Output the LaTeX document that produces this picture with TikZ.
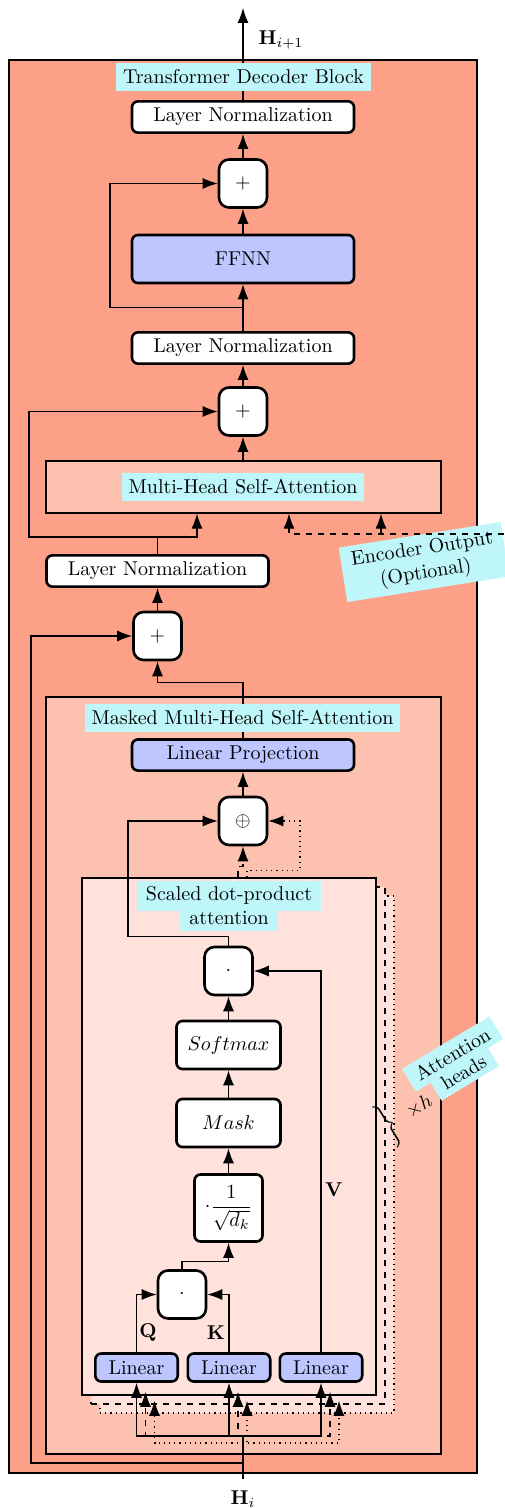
\documentclass[tikz,border=0pt]{standalone}
\usepackage{amsmath}
\usetikzlibrary{arrows.meta, calc}
\definecolor{blockcol}{RGB}{252,161,136}
\definecolor{attncol}{RGB}{253,193,176}
\definecolor{headcol}{RGB}{254,226,219}
\definecolor{lincol}{RGB}{190,198,255}
\definecolor{tagcol}{RGB}{190,246,250}
\newcommand{\tagbox}[1]{\colorbox{tagcol}{\hspace{1.5pt}#1\hspace{1.5pt}}}

\begin{document}
\begin{tikzpicture}[x=0.5pt, y=-0.5pt, semithick,
  box/.style={draw, line width=1.3pt, rounded corners=3pt, fill=white, minimum height=14pt},
  norm/.style={box, minimum width=111pt},
  op/.style={box, rounded corners=5pt, minimum width=24pt, minimum height=24pt},
  lin/.style={box, fill=lincol, minimum width=41.2pt},
  tag/.style={fill=tagcol, inner ysep=3pt, minimum height=14pt},
  area/.style={draw, inner sep=0pt},
  arr/.style={-{Latex[length=7.5pt,width=5.5pt]}}]
\useasboundingbox (0,0) rectangle (504,1508);

\node[area, fill=blockcol, minimum width=234pt, minimum height=706.5pt] (dec) at (243,766.5) {};
\node[norm] (ln1) at (243,117) {Layer Normalization};
\coordinate (out) at (243,8);
\draw[arr] (ln1) -- (out);
\node[tag, minimum width=123.5pt] (title) at (243.5,77) {Transformer Decoder Block};
\node (hout) at (281,40) {$\mathbf{H}_{i+1}$};
\node[op] (add1) at (243,183.5) {$+$};
\node[norm, fill=lincol, minimum height=24pt] (ffnn) at (243,259) {FFNN};
\node[norm] (ln2) at (243,348) {Layer Normalization};
\node[op] (add2) at (243,411.5) {$+$};
\node[area, fill=attncol, minimum width=197.5pt, minimum height=26pt] (mhsa) at (243.5,487) {};
\node[tag, minimum width=115pt] (mhsalab) at (243,487) {Multi-Head Self-Attention};
\node[norm] (ln3) at (157.5,571) {Layer Normalization};
\node[op] (add3) at (157.5,636) {$+$};
\node[tag, rotate=9, align=center, minimum width=82pt] (enclab) at (424,562) {Encoder Output\\(Optional)};
\coordinate (enc) at (504,534);
\coordinate (j2) at (157.5,537);

\node[area, fill=attncol, minimum width=197.5pt, minimum height=378.5pt] (masked) at (243.5,1075.5) {};
\node[norm, fill=lincol] (proj) at (243,755) {Linear Projection};
\draw[arr] (proj.north) -- ++(0,-56) -| (add3);
\node[tag, minimum width=146.5pt] (maskedlab) at (242.5,717.5) {Masked Multi-Head Self-Attention};
\node[op] (concat) at (243,821) {$\oplus$};
\node[area, dotted, fill=headcol, minimum width=147pt, minimum height=258.5pt] (head3) at (247,1154.5) {};
\node[area, dashed, fill=headcol, minimum width=147pt, minimum height=258.5pt] (head2) at (238,1145.5) {};
\node[area, fill=headcol, minimum width=147pt, minimum height=258.5pt] (head1) at (229,1136.5) {};
\node[align=center, inner sep=0pt] (sdplab) at (229,906) {\tagbox{Scaled dot-product}\\[-3.5pt]\tagbox{attention}};
\node[op] (av) at (228.5,971) {$\cdot$};
\node[box, minimum width=52pt, minimum height=24pt] (softmax) at (228.5,1045) {$Softmax$};
\node[box, minimum width=52pt, minimum height=24pt] (mask) at (228.5,1123) {$Mask$};
\node[box, minimum width=34pt, minimum height=33.5pt, inner sep=1pt] (scale) at (228.5,1208) {$\cdot\dfrac{1}{\sqrt{d_k}}$};
\node[op] (qk) at (182,1294.5) {$\cdot$};
\node[lin] (linq) at (136.5,1367.5) {Linear};
\node[lin] (link) at (229,1367.5) {Linear};
\node[lin] (linv) at (321,1367.5) {Linear};
\node (qlab) at (148,1333) {$\mathbf{Q}$};
\node (klab) at (216,1333) {$\mathbf{K}$};
\node (vlab) at (334,1190) {$\mathbf{V}$};
\node[rotate=32] (brace) at (389,1125) {$\bigg\}$};
\node[rotate=31] (times) at (419,1106) {$\times h$};
\node[rotate=31, align=center, inner sep=0pt] (headlab) at (458,1063) {\tagbox{Attention}\\[-3.5pt]\tagbox{heads}};
\coordinate (in) at (243,1479);
\coordinate (j3) at (243,1463);
\coordinate (j4) at (243,1436);
\coordinate (j5) at (243,1443);
\node (hin) at (243,1499) {$\mathbf{H}_i$};

\draw[arr] (add1) -- (ln1);
\draw[arr] (ffnn) -- (add1);
\draw[arr] (ln2) -- (ffnn);
\draw[arr] ($(ln2.north)!0.5!(ffnn.south)$) -- ++(-133,0) |- (add1);
\draw[arr] (add2) -- (ln2);
\draw[arr] (mhsa.north -| add2) -- (add2);
\draw (ln3) -- (j2);
\draw[arr] (j2) -| (mhsa.south -| 197,0);
\draw[arr] (j2) -- ++(-128.5,0) |- (add2);
\draw[arr] (add3) -- (ln3);
\draw[dashed, arr] (enc) -| (mhsa.south -| 289,0);
\draw[dashed, arr] (enc -| 381,0) -- (mhsa.south -| 381,0);

\draw[arr] (concat) -- (proj);
\draw[arr] (av.north) -- ++(0,-9) -- ++(-100.5,0) |- (concat);
\draw[dashed, arr] (head1.north -| head2.north) |- ($(concat.south)+(0,20)$) -- (concat);
\draw[dotted, arr] (head1.north -| head3.north) -- ++(0,-7) -| (concat.east -| 300,0) -- (concat);
\draw[arr] (softmax) -- (av);
\draw[arr] (mask) -- (softmax);
\draw[arr] (scale) -- (mask);
\draw[arr] (qk.north) -- ++(0,-8) -| (scale);
\draw[arr] (linq) |- (qk);
\draw[arr] (link) |- (qk);
\draw[arr] (linv) |- (av);

\draw (in) -- (j4);
\draw[arr] (j3) -- ++(-212,0) |- (add3);
\draw[arr] (j4) -| (linq);
\draw[arr] (j4) -| (link);
\draw[arr] (j4) -| (linv);
\draw[dashed, arr] (j4) -| ($(linq.south)+(9,9)$);
\draw[dashed, arr] (j4) -| ($(link.south)+(9,9)$);
\draw[dashed, arr] (j4) -| ($(linv.south)+(9,9)$);
\draw[dotted, arr] (j5) -| ($(linq.south)+(18,18)$);
\draw[dotted, arr] (j5) -| ($(link.south)+(18,18)$);
\draw[dotted, arr] (j5) -| ($(linv.south)+(18,18)$);
\end{tikzpicture}
\end{document}
